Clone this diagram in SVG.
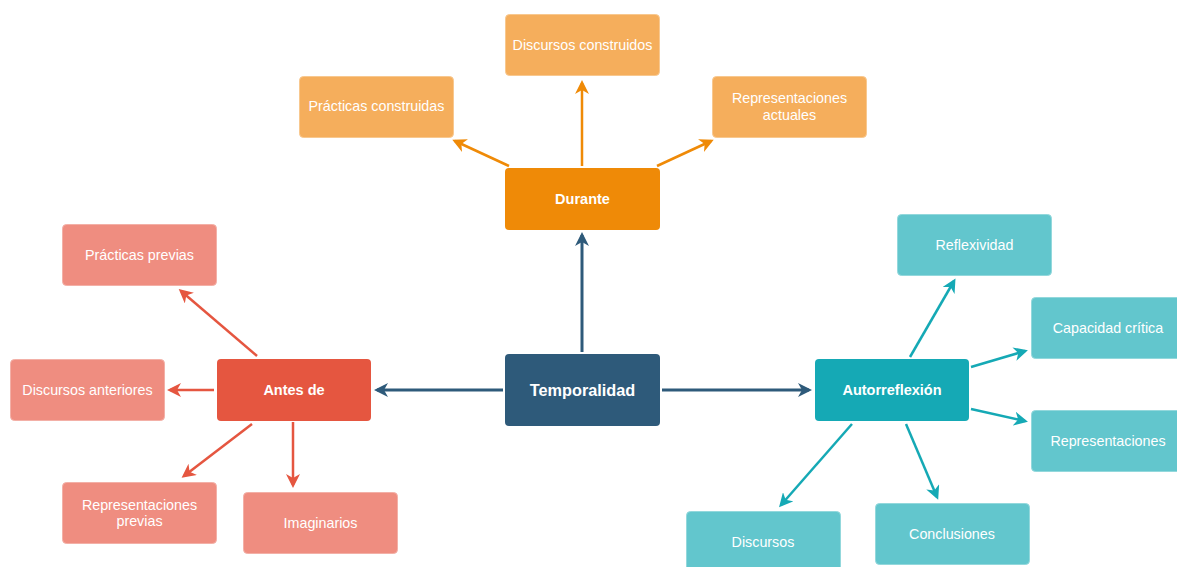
<svg xmlns="http://www.w3.org/2000/svg" width="1177" height="567" viewBox="0 0 1177 567">
<defs>
<style>
.t{font-family:"Liberation Sans",Arial,sans-serif;fill:#fff;text-anchor:middle;dominant-baseline:central}
.c{font-size:14.3px}
.b{font-size:14.5px;font-weight:bold}
.root{font-size:16.3px;font-weight:bold}
.ln{fill:none;stroke-width:2.5}
.blue{stroke:#2e5a7a;stroke-width:3}
.red{stroke:#e55640}
.org{stroke:#ef8a07}
.teal{stroke:#15a9b5}
.redL{fill:#ef8d80;stroke:#f3b0a7}
.orgL{fill:#f5ae5c;stroke:#f8c88f}
.tealL{fill:#62c6cd;stroke:#93d8dc}
</style>
<marker id="ab" markerUnits="userSpaceOnUse" markerWidth="16" markerHeight="14" refX="11" refY="7" orient="auto"><path d="M0,0 L14,7 L0,14 L4,7 z" fill="#2e5a7a"/></marker>
<marker id="ar" markerUnits="userSpaceOnUse" markerWidth="16" markerHeight="14" refX="11" refY="7" orient="auto"><path d="M0,0 L14,7 L0,14 L4,7 z" fill="#e55640"/></marker>
<marker id="ao" markerUnits="userSpaceOnUse" markerWidth="16" markerHeight="14" refX="11" refY="7" orient="auto"><path d="M0,0 L14,7 L0,14 L4,7 z" fill="#ef8a07"/></marker>
<marker id="at" markerUnits="userSpaceOnUse" markerWidth="16" markerHeight="14" refX="11" refY="7" orient="auto"><path d="M0,0 L14,7 L0,14 L4,7 z" fill="#15a9b5"/></marker>
</defs>
<rect width="1177" height="567" fill="#fff"/>
<g id="connectors">
<line class="ln blue" x1="503" y1="390" x2="377" y2="390" marker-end="url(#ab)"/>
<line class="ln blue" x1="582" y1="352" x2="582" y2="235" marker-end="url(#ab)"/>
<line class="ln blue" x1="662" y1="390" x2="809" y2="390" marker-end="url(#ab)"/>
<line class="ln red" x1="257" y1="356" x2="181" y2="291" marker-end="url(#ar)"/>
<line class="ln red" x1="214" y1="390" x2="170" y2="390" marker-end="url(#ar)"/>
<line class="ln red" x1="252" y1="424" x2="184" y2="476" marker-end="url(#ar)"/>
<line class="ln red" x1="293" y1="422" x2="293" y2="485" marker-end="url(#ar)"/>
<line class="ln org" x1="582" y1="166" x2="582" y2="83" marker-end="url(#ao)"/>
<line class="ln org" x1="509" y1="166" x2="455" y2="141" marker-end="url(#ao)"/>
<line class="ln org" x1="657" y1="166" x2="711" y2="141" marker-end="url(#ao)"/>
<line class="ln teal" x1="910" y1="357" x2="954" y2="281" marker-end="url(#at)"/>
<line class="ln teal" x1="971" y1="367" x2="1025" y2="351" marker-end="url(#at)"/>
<line class="ln teal" x1="971" y1="409" x2="1025" y2="421" marker-end="url(#at)"/>
<line class="ln teal" x1="852" y1="424" x2="781" y2="505" marker-end="url(#at)"/>
<line class="ln teal" x1="906" y1="424" x2="937" y2="497" marker-end="url(#at)"/>
</g>
<g id="n-temporalidad"><rect x="505" y="354" width="155" height="72" rx="4" fill="#2e5a7a"/><text class="t root" x="582.5" y="390">Temporalidad</text></g>
<g id="n-antes"><rect x="217" y="359" width="154" height="62" rx="4" fill="#e55640"/><text class="t b" x="294" y="390">Antes de</text></g>
<g id="n-durante"><rect x="505" y="168" width="155" height="62" rx="4" fill="#ef8a07"/><text class="t b" x="582.5" y="199">Durante</text></g>
<g id="n-auto"><rect x="815" y="359" width="154" height="62" rx="4" fill="#15a9b5"/><text class="t b" x="892" y="390">Autorreflexión</text></g>
<g id="n-practicas-previas"><rect class="redL" x="62.5" y="224.5" width="154" height="61" rx="4"/><text class="t c" x="139.5" y="255">Prácticas previas</text></g>
<g id="n-discursos-anteriores"><rect class="redL" x="10.5" y="359.5" width="154" height="61" rx="4"/><text class="t c" x="87.5" y="390">Discursos anteriores</text></g>
<g id="n-representaciones-previas"><rect class="redL" x="62.5" y="482.5" width="154" height="61" rx="4"/><text class="t c" x="139.5" y="505">Representaciones</text><text class="t c" x="139.5" y="521">previas</text></g>
<g id="n-imaginarios"><rect class="redL" x="243.5" y="492.5" width="154" height="61" rx="4"/><text class="t c" x="320.5" y="523">Imaginarios</text></g>
<g id="n-discursos-construidos"><rect class="orgL" x="505.5" y="14.5" width="154" height="61" rx="4"/><text class="t c" x="582.5" y="45">Discursos construidos</text></g>
<g id="n-practicas-construidas"><rect class="orgL" x="299.5" y="76.5" width="154" height="61" rx="4"/><text class="t c" x="376.5" y="106">Prácticas construidas</text></g>
<g id="n-representaciones-actuales"><rect class="orgL" x="712.5" y="76.5" width="154" height="61" rx="4"/><text class="t c" x="789.5" y="98">Representaciones</text><text class="t c" x="789.5" y="115">actuales</text></g>
<g id="n-reflexividad"><rect class="tealL" x="897.5" y="214.5" width="154" height="61" rx="4"/><text class="t c" x="974.5" y="245">Reflexividad</text></g>
<g id="n-capacidad"><rect class="tealL" x="1031.5" y="297.5" width="154" height="61" rx="4"/><text class="t c" x="1108" y="328">Capacidad crítica</text></g>
<g id="n-representaciones"><rect class="tealL" x="1031.5" y="410.5" width="154" height="61" rx="4"/><text class="t c" x="1108" y="441">Representaciones</text></g>
<g id="n-discursos"><rect class="tealL" x="686.5" y="511.5" width="154" height="61" rx="4"/><text class="t c" x="763" y="542">Discursos</text></g>
<g id="n-conclusiones"><rect class="tealL" x="875.5" y="503.5" width="154" height="61" rx="4"/><text class="t c" x="952" y="534">Conclusiones</text></g>
</svg>
